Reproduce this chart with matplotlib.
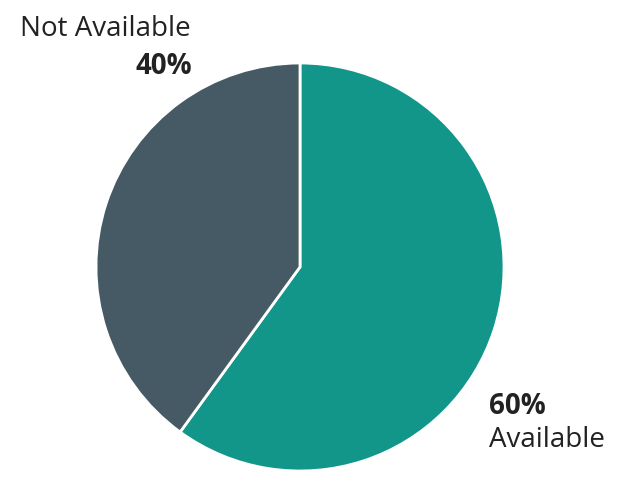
import matplotlib
matplotlib.use("Agg")
import matplotlib.pyplot as plt

labels = ["Available", "Not Available"]
values = [60, 40]
colors = ["#12968A", "#455A64"]

plt.rcParams["font.family"] = ["Open Sans", "DejaVu Sans"]

W, H = 629, 484
fig = plt.figure(figsize=(W / 100, H / 100), dpi=100)

cx, cy, r = 300, 267, 204
ax = fig.add_axes([(cx - r) / W, (H - cy - r) / H, 2 * r / W, 2 * r / H])
ax.pie(values, colors=colors, startangle=90, counterclock=False, radius=1,
       wedgeprops=dict(edgecolor="white", linewidth=2))
ax.set_xlim(-1, 1)
ax.set_ylim(-1, 1)
ax.set_aspect("equal")
ax.axis("off")

txt = "#222222"
fs = 20
fig.text(191 / W, 1 - 29 / H, labels[1], ha="right", va="center", fontsize=fs, color=txt)
fig.text(192 / W, 1 - 66 / H, f"{values[1]}%", ha="right", va="center", fontsize=fs,
         fontweight="bold", color=txt)
fig.text(489 / W, 1 - 407 / H, f"{values[0]}%", ha="left", va="center", fontsize=fs,
         fontweight="bold", color=txt)
fig.text(489 / W, 1 - 440 / H, labels[0], ha="left", va="center", fontsize=fs, color=txt)

fig.savefig("out.png", dpi=100)
